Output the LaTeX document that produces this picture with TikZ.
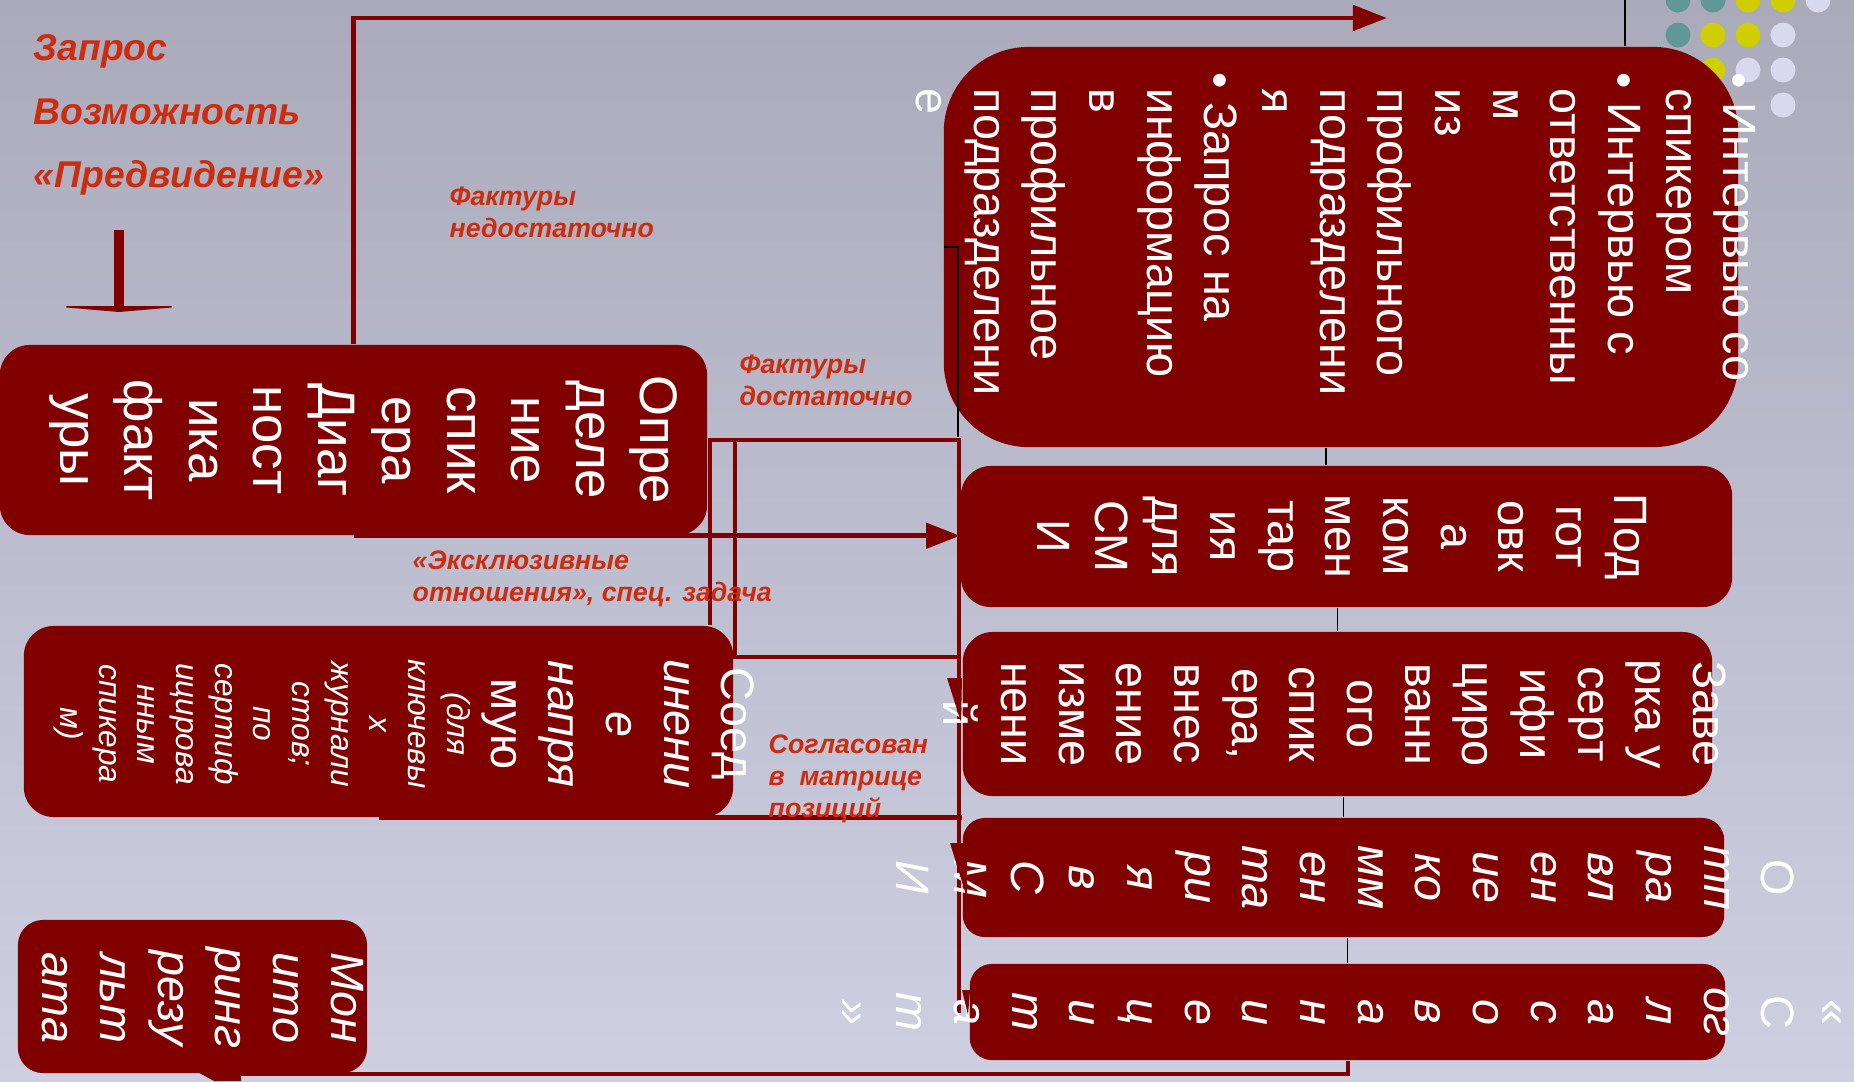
\documentclass[tikz,border=0pt]{standalone}
\usepackage{fontspec}
\setmainfont{Liberation Sans}
\usetikzlibrary{arrows.meta,positioning,calc}
\definecolor{boxred}{RGB}{128,0,0}
\definecolor{labelred}{RGB}{204,45,15}
\definecolor{bgtop}{RGB}{170,170,186}
\definecolor{bgbottom}{RGB}{206,208,226}
\definecolor{dotteal}{RGB}{95,152,150}
\definecolor{dotyellow}{RGB}{206,206,0}
\definecolor{dotlight}{RGB}{216,217,236}
\tikzset{
  stepbox/.style={fill=boxred,draw=none,inner sep=0pt,rounded corners=3mm},
  vtext/.style={rotate=-90,text=white,inner sep=0pt,align=center},
  bigtext/.style={font=\fontsize{15}{18.35}\selectfont},
  midtext/.style={font=\fontsize{13.3}{16.4}\selectfont},
  itext/.style={font=\fontsize{13.3}{16.4}\selectfont\itshape},
  smalltext/.style={font=\fontsize{9}{11}\selectfont\itshape},
  note/.style={text=labelred,font=\fontsize{7.6}{9.1}\selectfont\bfseries\itshape,
    align=left,inner sep=0pt,anchor=north west},
  titlenote/.style={note,font=\fontsize{10.6}{18}\selectfont\bfseries\itshape},
  link/.style={draw=boxred,line width=1.4pt},
  arr/.style={link,-{Triangle[length=3.4mm,width=2.5mm]}},
  thinlink/.style={draw=black,line width=0.5pt},
  wedge/.style={fill=boxred}
}
\begin{document}
\begin{tikzpicture}[x=0.01cm,y=-0.01cm]
\shade[top color=bgtop,bottom color=bgbottom] (0,0) rectangle (1854,1081);
\useasboundingbox (0,0) rectangle (1854,1081);

% corner dots
\foreach \dx/\dy/\dc in {1678/0/dotteal,1713/0/dotteal,1748/0/dotyellow,1783/0/dotyellow,1818/0/dotlight,
  1678/35/dotteal,1713/35/dotyellow,1748/35/dotyellow,1783/35/dotlight,
  1678/70/dotyellow,1713/70/dotyellow,1748/70/dotlight,1783/70/dotlight,
  1783/105/dotlight}
  \fill[fill=\dc] (\dx,\dy) circle[radius=12.5];

\node[titlenote] (query) at (33,34) {Запрос\\Возможность\\«Предвидение»};
\coordinate (qtop) at (119,230);
\coordinate (qfoot) at (119,312);
\draw[link,line width=3pt,-{Triangle[length=0.6mm,width=14mm]}] (qtop) -- (qfoot);

% boxes
\node[stepbox,minimum width=7.07cm,minimum height=1.9cm] (boxA) at (353.5,440) {};
\node[stepbox,rounded corners=8.5mm,minimum width=7.94cm,minimum height=4cm] (boxB) at (1341,247) {};
\node[stepbox,minimum width=7.71cm,minimum height=1.41cm] (boxC) at (1346.5,536.5) {};
\node[stepbox,minimum width=7.49cm,minimum height=1.64cm] (boxD) at (1337.5,714) {};
\node[stepbox,rounded corners=2.2mm,minimum width=7.61cm,minimum height=1.19cm] (boxE) at (1343.5,877.5) {};
\node[stepbox,rounded corners=2.2mm,minimum width=7.55cm,minimum height=0.96cm] (boxF) at (1347.5,1012) {};
\node[stepbox,minimum width=7.09cm,minimum height=1.91cm] (boxG) at (378.5,721.5) {};
\node[stepbox,rounded corners=2.5mm,minimum width=3.49cm,minimum height=1.53cm] (boxH) at (192.5,996.5) {};
\fill[boxred] (194,1070) -- (241,1070) -- (241,1081) -- (214,1081) -- cycle;

% connectors
\coordinate (topturn) at (353.5,18);
\coordinate (topend) at (1387,18);
\draw[arr] (boxA.north) -- (topturn) -- (topend);
\draw[arr] (boxA.south) -- (boxA.south -| boxC.west);
\coordinate (bus) at (959,440);
\coordinate (busend) at (959,1013);
\draw[link] (boxA.east) -- (bus) -- (busend);
\coordinate (splitA) at (710,440);
\draw[link] (splitA) -- (splitA |- boxG.north);
\coordinate (splitB) at (735,440);
\coordinate (gbranch) at (735,657);
\draw[link] (splitB) -- (gbranch) -- (gbranch -| bus);
\draw[link] (boxG.south) -- ([xshift=0.03cm]boxG.south -| bus);
\coordinate (hfoot) at (214,1074);
\coordinate (ffoot) at (1348,1074);
\draw[link] (hfoot) -- (ffoot) -- (boxF.south -| ffoot);

\coordinate (dotline) at (1625,0);
\draw[thinlink] (dotline) -- (dotline |- boxB.north);
\coordinate (btick) at (944,247);
\draw[thinlink] (btick) -- ++(14,0) -- (958,437);
\draw[thinlink] ([xshift=-0.15cm]boxB.south) -- ([xshift=-0.15cm]boxB.south |- boxC.north);
\draw[thinlink] (boxD.north) -- (boxD.north |- boxC.south);
\draw[thinlink] (boxE.north) -- (boxE.north |- boxD.south);
\draw[thinlink] (boxF.north) -- (boxF.north |- boxE.south);

% box texts
\node[vtext,bigtext] (txtA) at (363.5,440) {Опре\\деле\\ние\\спик\\ера\\Диаг\\ност\\ика\\факт\\уры};
\node[vtext,midtext,align=left,anchor=west] (txtB) at (1336,72)
  {\textbullet\ Интервью со\\\hspace*{4.6pt}спикером\\\textbullet\ Интервью с\\\hspace*{4.6pt}ответственны\\\hspace*{4.6pt}м\\\hspace*{4.6pt}из\\\hspace*{4.6pt}профильного\\\hspace*{4.6pt}подразделени\\\hspace*{4.6pt}я\\\textbullet\ Запрос на\\\hspace*{4.6pt}информацию\\\hspace*{4.6pt}в\\\hspace*{4.6pt}профильное\\\hspace*{4.6pt}подразделени\\\hspace*{4.6pt}е};
\node[vtext,midtext] (txtC) at (1342,536.5) {Под\\гот\\овк\\а\\ком\\мен\\тар\\ия\\для\\СМ\\И};
\node[vtext,midtext] (txtD) at (1335,714) {Заве\\рка у\\серт\\ифи\\циро\\ванн\\ого\\спик\\ера,\\внес\\ение\\изме\\нени\\й};
\node[vtext,itext] (txtE) at (1345.5,877.5) {\textup{О}\\тп\\ра\\вл\\ен\\ие\\ко\\мм\\ен\\та\\ри\\я\\в\\С\\М\\И};
\node[vtext,itext] (txtF) at (1340,1012) {\textup{«}\\\textup{С}\\ог\\л\\а\\с\\о\\в\\а\\н\\и\\е\\ц\\и\\т\\а\\т\\»};
\node[vtext,itext] (txtGbig) at (618,724) {\textup{Соед}\\инени\\е\\напря\\\textup{мую}};
\node[vtext,smalltext] (txtGsmall) at (262,724) {(для\\ключевы\\х\\журнали\\стов;\\по\\сертиф\\ицирова\\нным\\спикера\\м)};
\node[vtext,itext] (txtH) at (203,998) {Мон\\ито\\ринг\\резу\\льт\\ата};

% broken arrow tips
\fill[wedge] (947,678) -- (962,678) -- (961,722) -- cycle;
\fill[wedge] (950,843) -- (967,843) -- (967,898) -- cycle;
\fill[wedge] (962,990) -- (970,990) -- (968,1015) -- cycle;

% labels
\node[note] (lowfact) at (449,186) {Фактуры\\недостаточно};
\node[note] (enoughfact) at (739,354) {Фактуры\\достаточно};
\node[note] (exclusive) at (412,550) {«Эксклюзивные\\отношения», спец. задача};
\node[note] (agreed) at (768,734) {Согласован\\в\ \ матрице\\позиций};
\end{tikzpicture}
\end{document}
